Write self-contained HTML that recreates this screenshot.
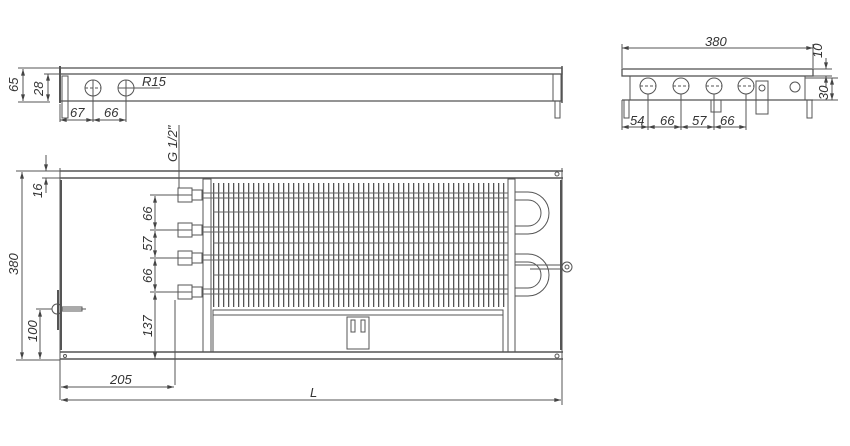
<!DOCTYPE html>
<html><head><style>
html,body{margin:0;padding:0;background:#fff;width:850px;height:446px;overflow:hidden}
text{font-family:"Liberation Sans",sans-serif;font-style:italic;font-size:13px;fill:#333}
</style></head><body>
<svg width="850" height="446" xmlns="http://www.w3.org/2000/svg">
<defs>
<marker id="a" viewBox="0 0 10 6" refX="10" refY="3" markerWidth="7" markerHeight="4" orient="auto-start-reverse"><path d="M0,0L10,3L0,6z" fill="#444"/></marker>
<pattern id="fins" x="213" y="0" width="5" height="10" patternUnits="userSpaceOnUse"><rect x="0" y="0" width="1.3" height="10" fill="#555"/></pattern>
</defs>
<g stroke="#555" fill="none" stroke-width="1">
<!-- top side view -->
<rect x="60" y="68" width="502" height="6" stroke-width="1.3"/>
<line x1="60" y1="101" x2="562" y2="101" stroke-width="1.3"/>
<line x1="60" y1="66" x2="60" y2="103" stroke-width="2"/>
<rect x="62" y="76" width="6" height="42"/>
<circle cx="93" cy="88" r="8"/><circle cx="126" cy="88" r="8"/>
<line x1="85" y1="88" x2="101" y2="88" stroke-dasharray="3 2"/><line x1="118" y1="88" x2="160" y2="88"/>
<line x1="93" y1="80" x2="93" y2="122"/><line x1="126" y1="80" x2="126" y2="122"/>
<rect x="553" y="74" width="8" height="27"/><rect x="555" y="101" width="5" height="17"/>
<line x1="562" y1="66" x2="562" y2="103" stroke-width="1.5"/>
<!-- dims top-left -->
<line x1="18" y1="68" x2="60" y2="68"/><line x1="18" y1="102" x2="50" y2="102"/>
<line x1="23" y1="69" x2="23" y2="101" marker-start="url(#a)" marker-end="url(#a)"/>
<line x1="44" y1="74" x2="60" y2="74"/><line x1="48" y1="74" x2="48" y2="101" marker-start="url(#a)" marker-end="url(#a)"/>
<line x1="60" y1="104" x2="60" y2="122"/>
<line x1="60" y1="120" x2="93" y2="120" marker-start="url(#a)" marker-end="url(#a)"/>
<line x1="93" y1="120" x2="126" y2="120" marker-start="url(#a)" marker-end="url(#a)"/>
<line x1="179" y1="125" x2="179" y2="188"/>
<!-- right side view -->
<rect x="622" y="69" width="191" height="7" stroke-width="1.3"/>
<rect x="630" y="76" width="175" height="24"/>
<line x1="622" y1="100" x2="813" y2="100" stroke-width="1.3"/>
<rect x="624" y="100" width="5" height="18"/><rect x="807" y="100" width="5" height="18"/>
<circle cx="648" cy="86" r="8"/><circle cx="681" cy="86" r="8"/><circle cx="714" cy="86" r="8"/><circle cx="746" cy="86" r="8"/>
<g stroke-dasharray="3 2"><line x1="640" y1="86" x2="656" y2="86"/><line x1="673" y1="86" x2="689" y2="86"/><line x1="706" y1="86" x2="722" y2="86"/><line x1="738" y1="86" x2="754" y2="86"/></g>
<circle cx="795" cy="87" r="5"/>
<rect x="756" y="81" width="12" height="33"/><circle cx="762" cy="88" r="3"/>
<rect x="711" y="100" width="10" height="12"/>
<line x1="622" y1="48" x2="813" y2="48" marker-start="url(#a)" marker-end="url(#a)"/>
<line x1="622" y1="44" x2="622" y2="68"/><line x1="813" y1="44" x2="813" y2="68"/>
<line x1="813" y1="69" x2="832" y2="69"/><line x1="813" y1="76" x2="832" y2="76"/>
<line x1="826" y1="58" x2="826" y2="69" marker-end="url(#a)"/><line x1="826" y1="88" x2="826" y2="76" marker-end="url(#a)"/>
<line x1="805" y1="78" x2="838" y2="78"/><line x1="805" y1="100" x2="838" y2="100"/>
<line x1="832" y1="78" x2="832" y2="100" marker-start="url(#a)" marker-end="url(#a)"/>
<line x1="622" y1="100" x2="622" y2="130"/>
<line x1="648" y1="94" x2="648" y2="130"/><line x1="681" y1="94" x2="681" y2="130"/><line x1="714" y1="94" x2="714" y2="130"/><line x1="746" y1="94" x2="746" y2="130"/>
<line x1="622" y1="127" x2="648" y2="127" marker-start="url(#a)" marker-end="url(#a)"/>
<line x1="648" y1="127" x2="681" y2="127" marker-start="url(#a)" marker-end="url(#a)"/>
<line x1="681" y1="127" x2="714" y2="127" marker-start="url(#a)" marker-end="url(#a)"/>
<line x1="714" y1="127" x2="746" y2="127" marker-start="url(#a)" marker-end="url(#a)"/>
<!-- plan view -->
<line x1="60" y1="171" x2="563" y2="171" stroke-width="1.5"/>
<line x1="60" y1="178" x2="563" y2="178" stroke-width="1.5"/>
<line x1="60" y1="352" x2="563" y2="352" stroke-width="1.5"/>
<line x1="60" y1="359" x2="563" y2="359" stroke-width="1.5"/>
<line x1="60" y1="168" x2="60" y2="400"/>
<line x1="562" y1="168" x2="562" y2="405"/>
<line x1="61" y1="180" x2="61" y2="350" stroke-width="2"/>
<line x1="561" y1="180" x2="561" y2="350" stroke-width="2"/>
<circle cx="557" cy="174" r="2"/><circle cx="557" cy="356" r="2"/><circle cx="65" cy="356" r="1.5"/>
<rect x="203" y="179" width="8" height="173"/>
<rect x="508" y="179" width="7" height="173"/>
<rect x="213" y="183" width="295" height="124" fill="url(#fins)" stroke="none"/>
<g stroke="#666">
<line x1="198" y1="193" x2="508" y2="193"/><line x1="198" y1="198" x2="508" y2="198"/>
<line x1="198" y1="227" x2="508" y2="227"/><line x1="198" y1="232" x2="508" y2="232"/>
<line x1="198" y1="255" x2="508" y2="255"/><line x1="198" y1="260" x2="508" y2="260"/>
<line x1="198" y1="289" x2="508" y2="289"/><line x1="198" y1="294" x2="508" y2="294"/>
<line x1="213" y1="212" x2="508" y2="212"/><line x1="213" y1="243" x2="508" y2="243"/><line x1="213" y1="275" x2="508" y2="275"/>
</g>
<path d="M515,192 H528 A14,14 0 0 1 528,234 H515"/><path d="M515,200 H528 A6,6 0 0 1 528,226 H515"/>
<path d="M515,254 H528 A14,14 0 0 1 528,296 H515"/><path d="M515,262 H528 A6,6 0 0 1 528,288 H515"/>
<rect x="213" y="310" width="290" height="5"/>
<rect x="213" y="315" width="290" height="37"/>
<rect x="347" y="317" width="22" height="32"/><rect x="351" y="320" width="4" height="12"/><rect x="361" y="320" width="4" height="12"/>
<line x1="563" y1="265" x2="515" y2="265"/><line x1="563" y1="269" x2="530" y2="269"/>
<circle cx="567" cy="267" r="5"/><circle cx="567" cy="267" r="2"/>
<line x1="58" y1="290" x2="58" y2="330" stroke-width="2"/>
<circle cx="57" cy="309" r="5"/><line x1="62" y1="309" x2="86" y2="309"/><rect x="62" y="307" width="20" height="4"/>
<!-- fittings -->
<g fill="#fff">
<rect x="178" y="188" width="14" height="14"/><rect x="192" y="190" width="10" height="10"/>
<rect x="178" y="223" width="14" height="14"/><rect x="192" y="225" width="10" height="10"/>
<rect x="178" y="251" width="14" height="14"/><rect x="192" y="253" width="10" height="10"/>
<rect x="178" y="285" width="14" height="14"/><rect x="192" y="287" width="10" height="10"/>
</g>
<line x1="178" y1="195" x2="192" y2="195"/><line x1="178" y1="230" x2="192" y2="230"/><line x1="178" y1="258" x2="192" y2="258"/><line x1="178" y1="292" x2="192" y2="292"/>
<line x1="175" y1="300" x2="175" y2="385"/>
<!-- plan dims -->
<line x1="16" y1="171" x2="60" y2="171"/><line x1="16" y1="360" x2="60" y2="360"/>
<line x1="22" y1="172" x2="22" y2="359" marker-start="url(#a)" marker-end="url(#a)"/>
<line x1="46" y1="155" x2="46" y2="171" marker-end="url(#a)"/><line x1="46" y1="193" x2="46" y2="178" marker-end="url(#a)"/>
<line x1="42" y1="178" x2="60" y2="178"/>
<line x1="36" y1="309" x2="52" y2="309"/>
<line x1="40" y1="310" x2="40" y2="359" marker-start="url(#a)" marker-end="url(#a)"/>
<line x1="150" y1="195" x2="178" y2="195"/><line x1="150" y1="230" x2="178" y2="230"/><line x1="150" y1="258" x2="178" y2="258"/><line x1="150" y1="292" x2="178" y2="292"/>
<line x1="155" y1="196" x2="155" y2="229" marker-start="url(#a)" marker-end="url(#a)"/>
<line x1="155" y1="231" x2="155" y2="257" marker-start="url(#a)" marker-end="url(#a)"/>
<line x1="155" y1="259" x2="155" y2="291" marker-start="url(#a)" marker-end="url(#a)"/>
<line x1="155" y1="293" x2="155" y2="359" marker-start="url(#a)" marker-end="url(#a)"/>
<line x1="61" y1="387" x2="174" y2="387" marker-start="url(#a)" marker-end="url(#a)"/>
<line x1="61" y1="400" x2="561" y2="400" marker-start="url(#a)" marker-end="url(#a)"/>
</g>
<!-- labels -->
<text transform="translate(18,92) rotate(-90)">65</text>
<text transform="translate(43,96) rotate(-90)">28</text>
<text x="70" y="117">67</text><text x="104" y="117">66</text>
<text x="142" y="86">R15</text>
<text transform="translate(177,162) rotate(-90)" font-size="12">G 1/2"</text>
<text x="705" y="46">380</text>
<text transform="translate(822,58) rotate(-90)" font-size="12">10</text>
<text transform="translate(828,100) rotate(-90)" font-size="12">30</text>
<text x="630" y="125">54</text><text x="660" y="125">66</text><text x="692" y="125">57</text><text x="720" y="125">66</text>
<text transform="translate(18,275) rotate(-90)">380</text>
<text transform="translate(42,198) rotate(-90)">16</text>
<text transform="translate(37,342) rotate(-90)">100</text>
<text transform="translate(152,221) rotate(-90)">66</text>
<text transform="translate(152,251) rotate(-90)">57</text>
<text transform="translate(152,283) rotate(-90)">66</text>
<text transform="translate(152,337) rotate(-90)">137</text>
<text x="110" y="384">205</text>
<text x="310" y="397">L</text>
</svg>
</body></html>
